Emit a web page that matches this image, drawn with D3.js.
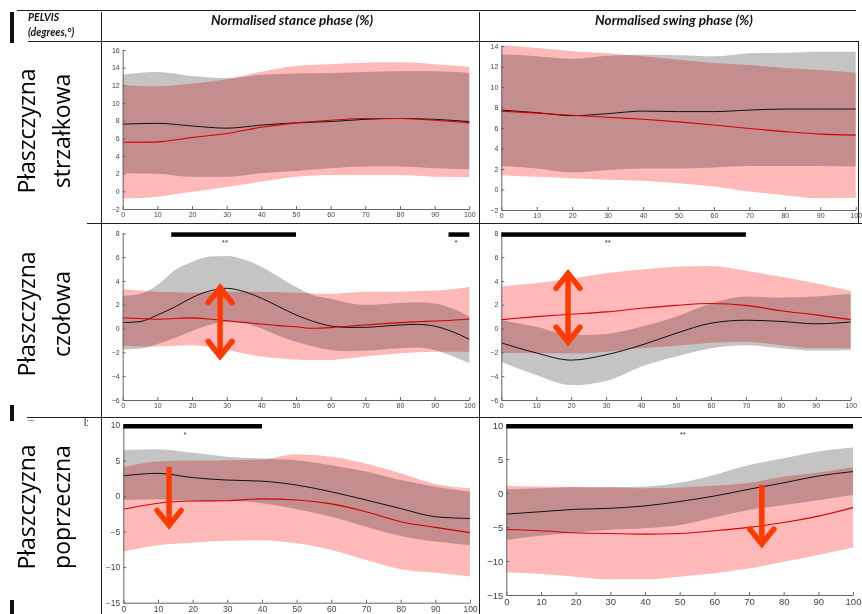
<!DOCTYPE html>
<html>
<head>
<meta charset="utf-8">
<script src="https://cdn.jsdelivr.net/npm/d3@7"></script>
<style>
  body { margin: 0; background: #fff; }
  svg { display: block; }
</style>
</head>
<body>
<div id="chart"></div>
<script>
// gait cycle positions (%)
const pct10 = [0, 10, 20, 30, 40, 50, 60, 70, 80, 90, 100];
const pct5 = [0, 5, 10, 15, 20, 25, 30, 35, 40, 45, 50, 55, 60, 65, 70, 75, 80, 85, 90, 95, 100];
const xTicks = [0, 10, 20, 30, 40, 50, 60, 70, 80, 90, 100];

// y tick labels
const yTicksSagStance = [-2, 0, 2, 4, 6, 8, 10, 12, 14, 16];
const yTicksSagSwing = [-2, 0, 2, 4, 6, 8, 10, 12, 14];
const yTicksFront = [-6, -4, -2, 0, 2, 4, 6, 8];
const yTicksTrans = [-15, -10, -5, 0, 5, 10];

// row / column labels
const colTitles = ['Normalised stance phase (%)', 'Normalised swing phase (%)'];
const rowTitles = [['Płaszczyzna', 'strzałkowa'], ['Płaszczyzna', 'czołowa'], ['Płaszczyzna', 'poprzeczna']];

// sagittal, stance
const sagStCtrlMean = [7.6, 7.7, 7.4, 7.15, 7.5, 7.75, 7.9, 8.15, 8.25, 8.15, 7.9];
const sagStCtrlUp = [13.2, 13.5, 13.05, 12.8, 13.2, 13.35, 13.4, 13.5, 13.6, 13.6, 13.4];
const sagStCtrlLo = [2.05, 2.0, 1.65, 1.65, 2.05, 2.3, 2.6, 2.8, 2.8, 2.6, 2.5];
const sagStPatMean = [5.55, 5.6, 6.1, 6.55, 7.25, 7.75, 8.05, 8.25, 8.25, 8.05, 7.75];
const sagStPatUp = [12.05, 11.9, 12.2, 12.7, 13.55, 14.2, 14.4, 14.55, 14.6, 14.4, 14.1];
const sagStPatLo = [-0.8, -0.6, -0.05, 0.5, 1.1, 1.65, 1.85, 1.85, 1.85, 1.65, 1.6];

// sagittal, swing
const sagSwCtrlMean = [7.75, 7.5, 7.2, 7.4, 7.65, 7.6, 7.6, 7.75, 7.85, 7.85, 7.85];
const sagSwCtrlUp = [13.2, 13.0, 12.75, 13.05, 13.15, 13.1, 13.0, 13.3, 13.35, 13.45, 13.45];
const sagSwCtrlLo = [2.3, 2.05, 1.65, 1.9, 2.05, 2.05, 2.15, 2.3, 2.3, 2.3, 2.25];
const sagSwPatMean = [7.65, 7.45, 7.25, 7.05, 6.85, 6.6, 6.3, 5.95, 5.65, 5.4, 5.3];
const sagSwPatUp = [14.1, 13.8, 13.5, 13.3, 13.0, 12.65, 12.35, 12.15, 11.85, 11.65, 11.4];
const sagSwPatLo = [1.4, 1.25, 1.1, 0.95, 0.85, 0.6, 0.3, -0.2, -0.55, -0.85, -0.8];

// frontal, stance
const frStCtrlMean = [0.5, 0.58, 1.14, 1.8, 2.6, 3.15, 3.38, 3.1, 2.55, 1.85, 1.15, 0.6, 0.22, 0.1, 0.1, 0.2, 0.3, 0.35, 0.2, -0.25, -0.9];
const frStCtrlUp = [2.75, 2.9, 3.65, 4.9, 5.6, 6.05, 6.1, 5.8, 5.2, 4.35, 3.5, 2.8, 2.5, 2.15, 2.0, 2.05, 2.15, 2.2, 2.1, 1.7, 1.0];
const frStCtrlLo = [-1.75, -1.7, -1.3, -0.8, -0.2, 0.3, 0.55, 0.45, 0.0, -0.6, -1.1, -1.5, -1.8, -1.9, -1.85, -1.75, -1.65, -1.6, -1.8, -2.3, -2.9];
const frStPatMean = [0.9, 0.85, 0.78, 0.85, 0.9, 0.8, 0.65, 0.52, 0.38, 0.25, 0.15, 0.02, 0.08, 0.2, 0.3, 0.4, 0.5, 0.57, 0.63, 0.7, 0.8];
const frStPatUp = [3.3, 3.2, 3.1, 3.05, 3.0, 3.05, 3.1, 3.1, 3.1, 3.05, 3.0, 2.95, 2.9, 3.0, 3.1, 3.1, 3.1, 3.15, 3.2, 3.3, 3.5];
const frStPatLo = [-1.45, -1.5, -1.5, -1.45, -1.4, -1.55, -1.8, -2.1, -2.35, -2.5, -2.6, -2.65, -2.65, -2.5, -2.35, -2.2, -2.1, -2.0, -1.95, -1.95, -1.95];

// frontal, swing
const frSwCtrlMean = [-1.2, -2.05, -2.65, -2.2, -1.4, -0.4, 0.45, 0.7, 0.6, 0.4, 0.55];
const frSwCtrlUp = [0.7, 0.15, -0.55, -0.45, 0.15, 1.0, 2.1, 2.7, 2.6, 2.7, 2.9];
const frSwCtrlLo = [-2.8, -3.9, -4.75, -4.4, -3.2, -2.35, -1.65, -1.4, -1.65, -1.85, -1.8];
const frSwPatMean = [0.75, 1.0, 1.2, 1.4, 1.7, 1.95, 2.1, 1.95, 1.5, 1.15, 0.75];
const frSwPatUp = [3.55, 3.8, 4.2, 4.65, 4.95, 5.2, 5.25, 4.85, 4.35, 3.8, 3.15];
const frSwPatLo = [-2.05, -2.05, -2.1, -1.95, -1.65, -1.45, -1.2, -1.1, -1.4, -1.65, -1.65];

// transverse, stance
const trStCtrlMean = [2.85, 3.2, 2.6, 2.25, 2.1, 1.55, 0.6, -0.55, -1.75, -2.9, -3.15];
const trStCtrlUp = [6.5, 6.6, 6.1, 5.55, 5.3, 5.05, 4.35, 3.45, 2.25, 1.3, 0.6];
const trStCtrlLo = [-0.55, -0.45, -0.65, -0.65, -1.0, -1.85, -2.9, -4.3, -5.6, -6.4, -6.9];
const trStPatMean = [-1.85, -1.0, -0.7, -0.65, -0.4, -0.55, -1.1, -2.2, -3.6, -4.4, -5.15];
const trStPatUp = [4.05, 4.85, 5.0, 5.05, 5.15, 5.9, 5.55, 4.6, 3.2, 1.7, 1.1];
const trStPatLo = [-7.8, -6.9, -6.55, -6.3, -6.2, -6.65, -7.6, -9.0, -10.3, -10.8, -11.3];

// transverse, swing
const trSwCtrlMean = [-3.1, -2.75, -2.4, -2.25, -1.9, -1.25, -0.45, 0.55, 1.5, 2.5, 3.15];
const trSwCtrlUp = [0.55, 0.7, 0.85, 0.85, 0.95, 1.5, 2.65, 4.1, 5.1, 6.1, 6.7];
const trSwCtrlLo = [-6.9, -6.3, -5.8, -5.4, -5.2, -4.7, -3.6, -2.5, -1.75, -1.05, -0.3];
const trSwPatMean = [-5.35, -5.55, -5.85, -5.95, -6.05, -5.95, -5.55, -5.05, -4.35, -3.4, -2.15];
const trSwPatUp = [1.05, 0.95, 0.9, 0.85, 0.7, 0.8, 1.05, 1.5, 2.4, 3.0, 3.8];
const trSwPatLo = [-11.7, -11.9, -12.3, -12.7, -12.7, -12.3, -11.8, -11.1, -10.1, -9.1, -8.0];

// significance bars: [from, to, label, label position]
const sigFrSt = [[14, 50, '**', 29.5], [94, 100, '*', 96.2]];
const sigFrSw = [[0, 70, '**', 30.5]];
const sigTrSt = [[0, 40, '*', 17.8]];
const sigTrSw = [[0, 100, '**', 50.9]];

// red arrows: [x, top, bottom, double headed]
const arrFrSt = [[28.1, 3.6, -2.5, true]];
const arrFrSw = [[19.1, 4.8, -1.3, true]];
const arrTrSt = [[13.2, 4.1, -4.4, false]];
const arrTrSw = [[73.7, 1.2, -7.8, false]];

const W = 862, H = 614;
const gray = '#c4c4c4', pink = '#ffb9b9', arrowCol = '#ff3a00';

const panels = [
  { xs: pct10, ctrl: [sagStCtrlMean, sagStCtrlUp, sagStCtrlLo], pat: [sagStPatMean, sagStPatUp, sagStPatLo],
    dom: [-2, 16], ticks: yTicksSagStance, l: 122.7, r: 469.3, t: 50, b: 209, fs: 7, sig: [], arr: [] },
  { xs: pct10, ctrl: [sagSwCtrlMean, sagSwCtrlUp, sagSwCtrlLo], pat: [sagSwPatMean, sagSwPatUp, sagSwPatLo],
    dom: [-2, 14], ticks: yTicksSagSwing, l: 501.3, r: 855.7, t: 46, b: 210, fs: 7, sig: [], arr: [] },
  { xs: pct5, ctrl: [frStCtrlMean, frStCtrlUp, frStCtrlLo], pat: [frStPatMean, frStPatUp, frStPatLo],
    dom: [-6, 8], ticks: yTicksFront, l: 122.7, r: 469.3, t: 233.3, b: 400, fs: 7, sig: sigFrSt, arr: arrFrSt },
  { xs: pct10, ctrl: [frSwCtrlMean, frSwCtrlUp, frSwCtrlLo], pat: [frSwPatMean, frSwPatUp, frSwPatLo],
    dom: [-6, 8], ticks: yTicksFront, l: 501.3, r: 850.7, t: 233.3, b: 400, fs: 7, sig: sigFrSw, arr: arrFrSw },
  { xs: pct10, ctrl: [trStCtrlMean, trStCtrlUp, trStCtrlLo], pat: [trStPatMean, trStPatUp, trStPatLo],
    dom: [-15, 10], ticks: yTicksTrans, l: 123.3, r: 470, t: 425, b: 602.7, fs: 8.5, sig: sigTrSt, arr: arrTrSt },
  { xs: pct10, ctrl: [trSwCtrlMean, trSwCtrlUp, trSwCtrlLo], pat: [trSwPatMean, trSwPatUp, trSwPatLo],
    dom: [-15, 10], ticks: yTicksTrans, l: 506.3, r: 853, t: 425, b: 595, fs: 9.5, sig: sigTrSw, arr: arrTrSw }
];

const svg = d3.select('#chart').append('svg').attr('width', W).attr('height', H);
svg.append('rect').attr('width', W).attr('height', H).attr('fill', '#fff');

function drawPanel(p) {
  const x = d3.scaleLinear().domain([0, 100]).range([p.l, p.r]);
  const y = d3.scaleLinear().domain(p.dom).range([p.b, p.t]);
  const g = svg.append('g');

  const band = (up, lo) => d3.area()
    .x((d, i) => x(p.xs[i]))
    .y0((d, i) => y(lo[i]))
    .y1((d, i) => y(up[i]))
    .curve(d3.curveMonotoneX)(p.xs);
  const line = (m) => d3.line()
    .x((d, i) => x(p.xs[i]))
    .y((d, i) => y(m[i]))
    .curve(d3.curveMonotoneX)(p.xs);

  g.append('path').attr('d', band(p.ctrl[1], p.ctrl[2])).attr('fill', gray);
  g.append('path').attr('d', band(p.pat[1], p.pat[2])).attr('fill', pink).style('mix-blend-mode', 'multiply');
  g.append('path').attr('d', line(p.ctrl[0])).attr('fill', 'none').attr('stroke', '#111').attr('stroke-width', 1);
  g.append('path').attr('d', line(p.pat[0])).attr('fill', 'none').attr('stroke', '#d40000').attr('stroke-width', 1.1);

  const xa = g.append('g').attr('transform', `translate(0,${p.b})`)
    .call(d3.axisBottom(x).tickValues(xTicks).tickSizeInner(-3).tickSizeOuter(0).tickPadding(3));
  const ya = g.append('g').attr('transform', `translate(${p.l},0)`)
    .call(d3.axisLeft(y).tickValues(p.ticks).tickSizeInner(-3).tickSizeOuter(0).tickPadding(3));
  [xa, ya].forEach((a) => {
    a.select('.domain').attr('stroke', '#666');
    a.selectAll('.tick line').attr('stroke', '#666');
    a.selectAll('.tick text').attr('fill', '#444')
      .style('font-family', '"Liberation Sans", Arial, sans-serif').style('font-size', p.fs + 'px');
  });

  p.sig.forEach((s) => {
    g.append('rect')
      .attr('x', x(s[0])).attr('width', x(s[1]) - x(s[0]))
      .attr('y', p.t - 1).attr('height', 4.5).attr('fill', '#000');
    g.append('text')
      .attr('x', x(s[3])).attr('y', p.t + 12)
      .attr('text-anchor', 'middle')
      .style('font-family', '"Liberation Sans", Arial, sans-serif').style('font-size', '8px')
      .attr('fill', '#333').text(s[2]);
  });

  p.arr.forEach((a) => {
    const cx = x(a[0]), ty = y(a[1]), by = y(a[2]);
    const hw = 12, hh = 17;
    g.append('line').attr('x1', cx).attr('x2', cx)
      .attr('y1', a[3] ? ty + 3 : ty).attr('y2', by - 3)
      .attr('stroke', arrowCol).attr('stroke-width', 5.5);
    g.append('polyline').attr('points', `${cx - hw},${by - hh} ${cx},${by - 2} ${cx + hw},${by - hh}`)
      .attr('fill', 'none').attr('stroke', arrowCol).attr('stroke-width', 5.5)
      .attr('stroke-linecap', 'round');
    if (a[3]) {
      g.append('polyline').attr('points', `${cx - hw},${ty + hh} ${cx},${ty + 2} ${cx + hw},${ty + hh}`)
        .attr('fill', 'none').attr('stroke', arrowCol).attr('stroke-width', 5.5)
        .attr('stroke-linecap', 'round');
    }
  });
}

panels.forEach(drawPanel);

// table grid
const grid = svg.append('g').attr('stroke', '#222').attr('stroke-width', 1);
grid.append('line').attr('x1', 17).attr('x2', 856).attr('y1', 10.5).attr('y2', 10.5);
grid.append('line').attr('x1', 28).attr('x2', 858).attr('y1', 41.5).attr('y2', 41.5);
grid.append('line').attr('x1', 87).attr('x2', 862).attr('y1', 223.5).attr('y2', 223.5);
grid.append('line').attr('x1', 27).attr('x2', 862).attr('y1', 417.5).attr('y2', 417.5);
grid.append('line').attr('x1', 101.5).attr('x2', 101.5).attr('y1', 12).attr('y2', 614);
grid.append('line').attr('x1', 479.5).attr('x2', 479.5).attr('y1', 12).attr('y2', 614);
grid.append('line').attr('x1', 858.5).attr('x2', 858.5).attr('y1', 41).attr('y2', 223);

// cut-off marks at the left edge
[[12, 43], [405, 421], [600, 614]].forEach((m) => {
  svg.append('rect').attr('x', 10).attr('y', m[0]).attr('width', 4).attr('height', m[1] - m[0]).attr('fill', '#111');
});
svg.append('line').attr('x1', 28).attr('x2', 34).attr('y1', 420.5).attr('y2', 420.5).attr('stroke', '#999');
svg.append('text').attr('x', 84).attr('y', 426).style('font-family', '"Liberation Sans", Arial, sans-serif')
  .style('font-size', '10px').attr('fill', '#222').text('l:');

// header
const hdrFont = 'Lato, "Open Sans", sans-serif';
svg.append('text').attr('x', 28).attr('y', 21).style('font-family', hdrFont).style('font-size', '10.5px')
  .style('font-weight', 'bold').style('font-style', 'italic').attr('fill', '#111').text('PELVIS');
svg.append('text').attr('x', 28).attr('y', 36).style('font-family', hdrFont).style('font-size', '10.5px')
  .style('font-weight', 'bold').style('font-style', 'italic').attr('fill', '#111').text('(degrees,°)');
[292, 674].forEach((cx, i) => {
  svg.append('text').attr('x', cx).attr('y', 25).attr('text-anchor', 'middle')
    .style('font-family', hdrFont).style('font-size', '13.5px')
    .style('font-weight', 'bold').style('font-style', 'italic').attr('fill', '#111').text(colTitles[i]);
});

// row titles, rotated
[131, 314, 507].forEach((cy, i) => {
  [35, 70].forEach((bx, j) => {
    svg.append('text')
      .attr('transform', `translate(${bx},${cy}) rotate(-90)`)
      .attr('text-anchor', 'middle')
      .style('font-family', '"Open Sans", sans-serif').style('font-size', '23px')
      .attr('fill', '#000').text(rowTitles[i][j]);
  });
});
</script>
</body>
</html>
